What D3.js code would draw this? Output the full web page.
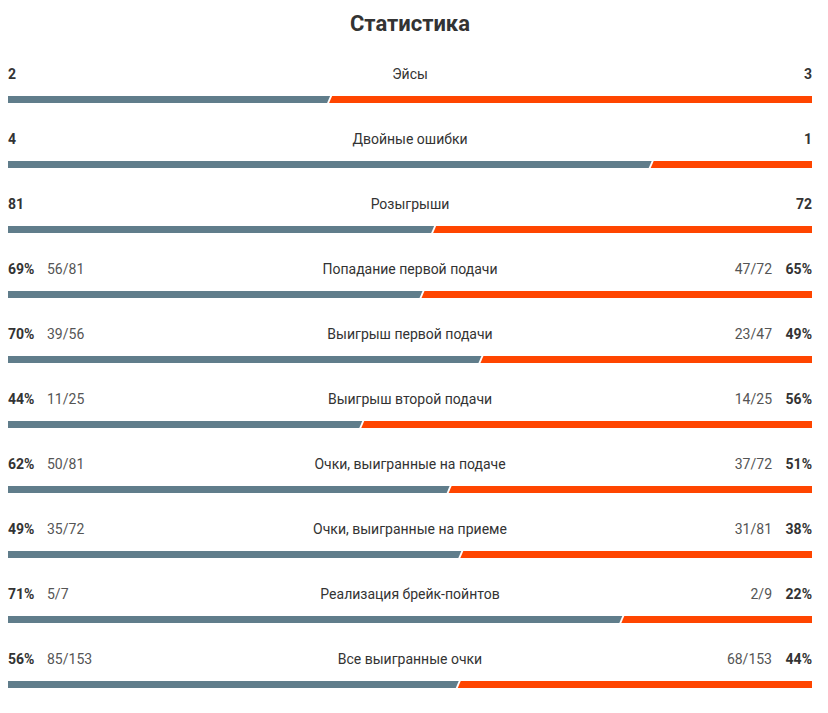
<!DOCTYPE html>
<html><head><meta charset="utf-8">
<script src="https://cdn.jsdelivr.net/npm/d3@7"></script>
<style>body{margin:0;background:#fff;}svg{display:block;font-family:Roboto,"Noto Sans",sans-serif;}</style>
</head><body><svg id="c" width="828" height="713"></svg>
<script>
const title = "Статистика";
const categories = ["Эйсы","Двойные ошибки","Розыгрыши","Попадание первой подачи","Выигрыш первой подачи","Выигрыш второй подачи","Очки, выигранные на подаче","Очки, выигранные на приеме","Реализация брейк-пойнтов","Все выигранные очки"];
const leftValues = [2,4,81,69,70,44,62,49,71,56];
const rightValues = [3,1,72,65,49,56,51,38,22,44];
const leftMain = ["2","4","81","69%","70%","44%","62%","49%","71%","56%"];
const rightMain = ["3","1","72","65%","49%","56%","51%","38%","22%","44%"];
const leftSub = ["","","","56/81","39/56","11/25","50/81","35/72","5/7","85/153"];
const rightSub = ["","","","47/72","23/47","14/25","37/72","31/81","2/9","68/153"];

const W = 828, left = 8, right = 812;
const svg = d3.select("#c");
const blue = "#607d8b", orange = "#ff4500";
svg.append("text").attr("x", 410).attr("y", 31).attr("text-anchor","middle")
  .attr("font-size", 22).attr("font-weight", 700).attr("fill","#333").text(title);

const yRow = d3.scaleBand().domain(d3.range(categories.length)).range([53, 703]);
const x = d3.scaleLinear().domain([0,1]).range([left, right]);
const barH = 7, slant = 3, gap = 2;

categories.forEach((cat, i) => {
  const y0 = yRow(i);
  const g = svg.append("g").attr("transform", `translate(0,${y0})`);
  const ty = 26;
  g.append("text").attr("x", W/2 - 4).attr("y", ty).attr("text-anchor","middle")
    .attr("font-size", 14).attr("fill","#333").text(cat);
  g.append("text").attr("x", left).attr("y", ty).attr("font-size", 14).attr("font-weight",700).attr("fill","#333").text(leftMain[i]);
  g.append("text").attr("x", right).attr("y", ty).attr("text-anchor","end").attr("font-size", 14).attr("font-weight",700).attr("fill","#333").text(rightMain[i]);
  if (leftSub[i]) {
    g.append("text").attr("x", 47).attr("y", ty).attr("font-size", 14).attr("fill","#555").text(leftSub[i]);
    g.append("text").attr("x", 772).attr("y", ty).attr("text-anchor","end").attr("font-size", 14).attr("fill","#555").text(rightSub[i]);
  }
  const frac = leftValues[i] / (leftValues[i] + rightValues[i]);
  const sx = x(frac);
  const by = 43;
  g.append("path").attr("fill", blue)
    .attr("d", `M${left},${by} L${sx + slant/2 - gap/2},${by} L${sx - slant/2 - gap/2},${by+barH} L${left},${by+barH} Z`);
  g.append("path").attr("fill", orange)
    .attr("d", `M${sx + slant/2 + gap/2},${by} L${right},${by} L${right},${by+barH} L${sx - slant/2 + gap/2},${by+barH} Z`);
});
</script></body></html>
